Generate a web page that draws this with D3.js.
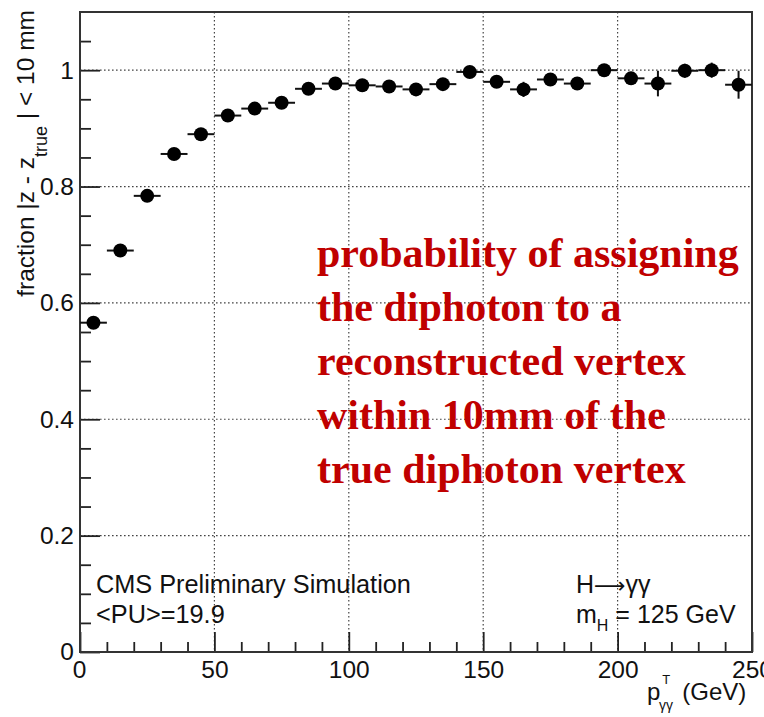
<!DOCTYPE html>
<html>
<head>
<meta charset="utf-8">
<script src="https://cdn.jsdelivr.net/npm/d3@7"></script>
<style>
  html, body { margin: 0; padding: 0; background: #fff; }
  svg { display: block; }
</style>
</head>
<body>
<script>
// ---- data ----
const binCenters = [5, 15, 25, 35, 45, 55, 65, 75, 85, 95, 105, 115, 125, 135, 145, 155, 165, 175, 185, 195, 205, 215, 225, 235, 245];
const binHalfWidth = [5, 5, 5, 5, 5, 5, 5, 5, 5, 5, 5, 5, 5, 5, 5, 5, 5, 5, 5, 5, 5, 5, 5, 5, 5];
const fractionValues = [0.566, 0.690, 0.784, 0.856, 0.890, 0.922, 0.934, 0.944, 0.968, 0.977, 0.974, 0.972, 0.967, 0.976, 0.997, 0.980, 0.967, 0.984, 0.977, 1.000, 0.986, 0.977, 0.999, 1.000, 0.975];
const fractionErrors = [0.004, 0.004, 0.004, 0.004, 0.004, 0.004, 0.005, 0.005, 0.005, 0.006, 0.006, 0.007, 0.007, 0.008, 0.008, 0.009, 0.013, 0.010, 0.010, 0.010, 0.011, 0.022, 0.012, 0.013, 0.024];
const xMajorTicks = [0, 50, 100, 150, 200, 250];
const xMinorTicks = [10, 20, 30, 40, 60, 70, 80, 90, 110, 120, 130, 140, 160, 170, 180, 190, 210, 220, 230, 240];
const yMajorTicks = [0, 0.2, 0.4, 0.6, 0.8, 1.0];
const yMinorTicks = [0.05, 0.1, 0.15, 0.25, 0.3, 0.35, 0.45, 0.5, 0.55, 0.65, 0.7, 0.75, 0.85, 0.9, 0.95, 1.05];
const cmsLabels = ["CMS Preliminary Simulation", "<PU>=19.9"];
const annotationLines = ["probability of assigning", "the diphoton to a", "reconstructed vertex", "within 10mm of the", "true diphoton vertex"];

// ---- layout ----
const W = 764, H = 717;
const L = 80, R = 752, T = 12, B = 652;
const sansFont = "'Liberation Sans', Arial, Helvetica, sans-serif";

const svg = d3.select("body").append("svg").attr("width", W).attr("height", H);

const x = d3.scaleLinear().domain([0, 250]).range([L, R]);
const y = d3.scaleLinear().domain([0, 1.1]).range([B, T]);

// grid (dotted)
const grid = svg.append("g").attr("stroke", "#444").attr("stroke-width", 1.2).attr("stroke-dasharray", "1.6,2.4");
grid.selectAll("line.gx").data(xMajorTicks.filter(d => d > 0 && d < 250)).join("line")
  .attr("x1", d => x(d)).attr("x2", d => x(d)).attr("y1", T).attr("y2", B);
grid.selectAll("line.gy").data(yMajorTicks.filter(d => d > 0)).join("line")
  .attr("x1", L).attr("x2", R).attr("y1", d => y(d)).attr("y2", d => y(d));

// axes
const fmtY = d => (d === 0 ? "0" : d3.format("~g")(d));
const yAxisMajor = d3.axisLeft(y).tickValues(yMajorTicks).tickSize(-20).tickPadding(6).tickFormat(fmtY);
const yAxisMinor = d3.axisLeft(y).tickValues(yMinorTicks).tickSize(-11).tickFormat("");
const xAxisMajor = d3.axisBottom(x).tickValues(xMajorTicks).tickSize(-20).tickPadding(9).tickFormat(d3.format("d"));
const xAxisMinor = d3.axisBottom(x).tickValues(xMinorTicks).tickSize(-10).tickFormat("");

function styleAxis(g) {
  g.select(".domain").remove();
  g.selectAll(".tick line").attr("stroke", "#222").attr("stroke-width", 1.8);
  g.selectAll(".tick text").attr("fill", "#111").style("font-family", sansFont).style("font-size", "24.5px");
}
svg.append("g").attr("transform", `translate(${L},0)`).call(yAxisMajor).call(styleAxis);
svg.append("g").attr("transform", `translate(${L},0)`).call(yAxisMinor).call(styleAxis);
const gx = svg.append("g").attr("transform", `translate(0,${B})`).call(xAxisMajor).call(styleAxis);
svg.append("g").attr("transform", `translate(0,${B})`).call(xAxisMinor).call(styleAxis);
// ROOT places the x "0" label slightly left
gx.selectAll(".tick text").filter(d => d === 0).attr("dx", -1);

// frame
svg.append("rect").attr("x", L).attr("y", T).attr("width", R - L).attr("height", B - T)
  .attr("fill", "none").attr("stroke", "#333").attr("stroke-width", 2);

// data points
const pts = svg.append("g");
const data = binCenters.map((c, i) => ({ c, hw: binHalfWidth[i], v: fractionValues[i], e: fractionErrors[i] }));
pts.selectAll("line.xe").data(data).join("line")
  .attr("x1", d => x(d.c - d.hw)).attr("x2", d => x(d.c + d.hw))
  .attr("y1", d => y(d.v)).attr("y2", d => y(d.v))
  .attr("stroke", "#111").attr("stroke-width", 2);
pts.selectAll("line.ye").data(data).join("line")
  .attr("x1", d => x(d.c)).attr("x2", d => x(d.c))
  .attr("y1", d => y(d.v - d.e)).attr("y2", d => y(d.v + d.e))
  .attr("stroke", "#111").attr("stroke-width", 2);
pts.selectAll("circle").data(data).join("circle")
  .attr("cx", d => x(d.c)).attr("cy", d => y(d.v)).attr("r", 7).attr("fill", "#000");

// y axis title
const yt = svg.append("text")
  .attr("transform", `translate(34,10) rotate(-90)`)
  .attr("text-anchor", "end")
  .style("font-family", sansFont).style("font-size", "24.5px").attr("fill", "#111");
yt.append("tspan").text("fraction |z - z");
yt.append("tspan").attr("dy", 13).style("font-size", "18px").text("true");
yt.append("tspan").attr("dy", -13).text(" | < 10 mm");

// x axis title
const xt = svg.append("text").attr("x", 647).attr("y", 700)
  .style("font-family", sansFont).style("font-size", "24px").attr("fill", "#111");
xt.append("tspan").text("p");
xt.append("tspan").attr("dx", 2).attr("dy", -16).style("font-size", "13px").text("T");
xt.append("tspan").attr("dx", 12).attr("dy", 16).text("(GeV)");
svg.append("text").attr("x", 659).attr("y", 710)
  .style("font-family", sansFont).style("font-size", "14px").attr("fill", "#111").text("γγ");

// CMS labels
svg.selectAll("text.cms").data(cmsLabels).join("text")
  .attr("x", 96).attr("y", (d, i) => 593 + i * 30)
  .style("font-family", sansFont).style("font-size", "25.3px").attr("fill", "#111")
  .text(d => d);

const hg = svg.append("text").attr("x", 576).attr("y", 593)
  .style("font-family", sansFont).style("font-size", "25px").attr("fill", "#111");
hg.append("tspan").text("H");
hg.append("tspan").style("font-family", "'DejaVu Sans', sans-serif").style("font-size", "22px").text("⟶");
hg.append("tspan").text("γγ");
const mh = svg.append("text").attr("x", 576).attr("y", 623)
  .style("font-family", sansFont).style("font-size", "25px").attr("fill", "#111");
mh.append("tspan").text("m");
mh.append("tspan").attr("dy", 8).style("font-size", "16px").text("H");
mh.append("tspan").attr("dy", -8).text(" = 125 GeV");

// red annotation
svg.selectAll("text.note").data(annotationLines).join("text")
  .attr("x", 317).attr("y", (d, i) => 267 + i * 54)
  .style("font-family", "'Liberation Serif', 'Times New Roman', serif")
  .style("font-weight", "bold").style("font-size", "42px")
  .attr("fill", "#c00000")
  .text(d => d);
</script>
</body>
</html>
